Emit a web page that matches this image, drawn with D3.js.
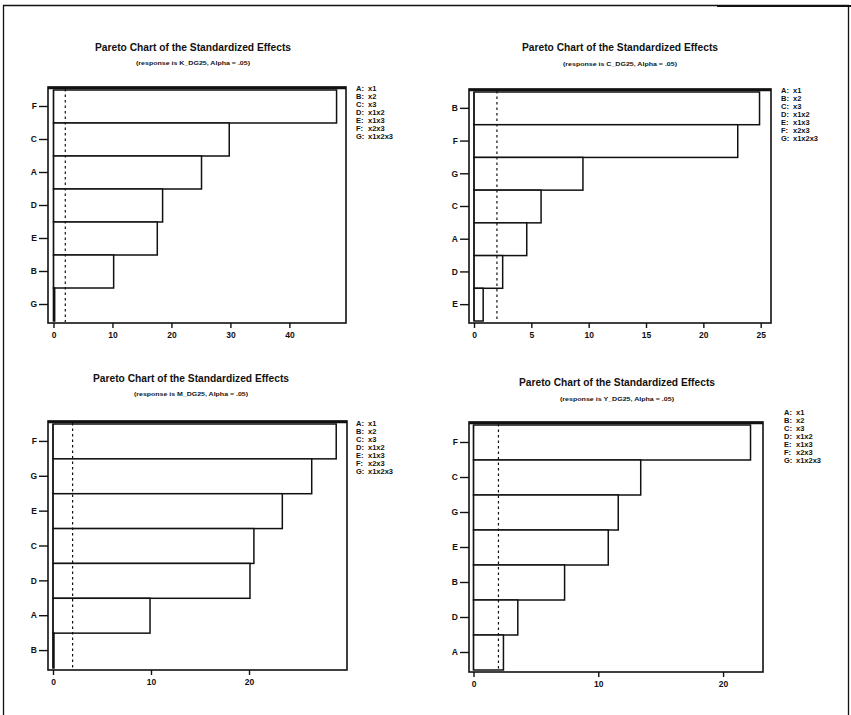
<!DOCTYPE html>
<html>
<head>
<meta charset="utf-8">
<script src="https://cdn.jsdelivr.net/npm/d3@7"></script>
<style>
	body { margin: 0; background: #fff; }
	svg text { font-family: "Liberation Sans", Arial, sans-serif; fill: #111; }
</style>
</head>
<body>
<svg id="chart" width="851" height="715"></svg>
<script>

// legend shared by all four charts
const legendKeys = ["A:", "B:", "C:", "D:", "E:", "F:", "G:"];
const legendTerms = ["x1", "x2", "x3", "x1x2", "x1x3", "x2x3", "x1x2x3"];
const alphaLine = 2.0; // dashed reference line

const responses = ["K_DG25", "C_DG25", "M_DG25", "Y_DG25"];

const kEffects = ["F", "C", "A", "D", "E", "B", "G"];
const kValues = [48.0, 29.8, 25.1, 18.5, 17.6, 10.2, 0.2];

const cEffects = ["B", "F", "G", "C", "A", "D", "E"];
const cValues = [24.9, 23.0, 9.5, 5.85, 4.6, 2.5, 0.8];

const mEffects = ["F", "G", "E", "C", "D", "A", "B"];
const mValues = [28.9, 26.4, 23.4, 20.5, 20.1, 9.9, 0.1];

const yEffects = ["F", "C", "G", "E", "B", "D", "A"];
const yValues = [22.2, 13.4, 11.6, 10.8, 7.3, 3.55, 2.4];

const kTicks = [0, 10, 20, 30, 40];
const cTicks = [0, 5, 10, 15, 20, 25];
const mTicks = [0, 10, 20];
const yTicks = [0, 10, 20];

//////////////////////////////////////////////////////////////////////

const svg = d3.select("#chart");

// page border of the scanned sheet
svg.append("path")
	.attr("d", "M3.5,715 L3.5,5.5 L848.5,5.5 L848.5,715")
	.attr("fill", "none")
	.attr("stroke", "#111")
	.attr("stroke-width", 1.3);
svg.append("line")
	.attr("x1", 717).attr("x2", 851).attr("y1", 6).attr("y2", 6)
	.attr("stroke", "#111").attr("stroke-width", 2.2);

const panels = [
	{effects: kEffects, values: kValues, ticks: kTicks, response: responses[0],
	 left: 48, right: 346, top: 87, bottom: 323, zero: 53.5, xMax: 49.6,
	 titleX: 193, titleY: 51, subY: 65, legendX: 356, legendY: 91},
	{effects: cEffects, values: cValues, ticks: cTicks, response: responses[1],
	 left: 469, right: 771, top: 89, bottom: 323, zero: 474, xMax: 25.9,
	 titleX: 620, titleY: 51, subY: 66, legendX: 781, legendY: 93},
	{effects: mEffects, values: mValues, ticks: mTicks, response: responses[2],
	 left: 48, right: 347, top: 421, bottom: 670, zero: 53, xMax: 30.0,
	 titleX: 191, titleY: 382, subY: 396, legendX: 356, legendY: 426},
	{effects: yEffects, values: yValues, ticks: yTicks, response: responses[3],
	 left: 469, right: 763, top: 422, bottom: 672, zero: 473.5, xMax: 23.2,
	 titleX: 617, titleY: 386, subY: 401, legendX: 784, legendY: 415}
];

for (const p of panels) {
	drawPareto(p);
}

function drawPareto(p) {

	const g = svg.append("g");

	// the zero sits a few pixels inside the frame, as in minitab
	const x = d3.scaleLinear()
		.domain([0, p.xMax])
		.range([p.zero, p.right]);

	const y = d3.scaleBand()
		.domain(p.effects)
		.range([p.top + 3, p.bottom - 2])
		.paddingInner(0);

	const rows = p.effects.map((e, i) => ({name: e, value: p.values[i]}));

	// bars
	g.selectAll("rect.bar")
		.data(rows)
		.join("rect")
		.classed("bar", true)
		.attr("x", x(0))
		.attr("y", d => y(d.name))
		.attr("width", d => x(d.value) - x(0))
		.attr("height", y.bandwidth())
		.attr("fill", "#fff")
		.attr("stroke", "#111")
		.attr("stroke-width", 1.5);

	// zero line
	g.append("line")
		.attr("x1", x(0)).attr("x2", x(0))
		.attr("y1", p.top + 3).attr("y2", p.bottom - 2)
		.attr("stroke", "#111").attr("stroke-width", 1.2);

	// dashed alpha line
	g.append("line")
		.attr("x1", x(alphaLine)).attr("x2", x(alphaLine))
		.attr("y1", p.top + 2).attr("y2", p.bottom - 1)
		.attr("stroke", "#111")
		.attr("stroke-width", 1.2)
		.attr("stroke-dasharray", "2.5,3");

	// frame
	g.append("rect")
		.attr("x", p.left).attr("y", p.top)
		.attr("width", p.right - p.left).attr("height", p.bottom - p.top)
		.attr("fill", "none")
		.attr("stroke", "#111")
		.attr("stroke-width", 1.6);
	g.append("line")
		.attr("x1", p.left).attr("x2", p.right)
		.attr("y1", p.top + 1).attr("y2", p.top + 1)
		.attr("stroke", "#111").attr("stroke-width", 2.6);

	// axes
	const xAxis = g.append("g")
		.attr("transform", "translate(0," + p.bottom + ")")
		.call(d3.axisBottom(x).tickValues(p.ticks).tickSize(5).tickSizeOuter(0).tickPadding(4));
	xAxis.select(".domain").remove();

	const yAxis = g.append("g")
		.attr("transform", "translate(" + p.left + ",0)")
		.call(d3.axisLeft(y).tickSize(9).tickSizeOuter(0).tickPadding(2));
	yAxis.select(".domain").remove();

	g.selectAll(".tick line").attr("stroke", "#111").attr("stroke-width", 1.4);
	g.selectAll(".tick text")
		.attr("font-size", 8.5)
		.attr("font-weight", "bold")
		.attr("fill", "#111");

	// titles
	g.append("text")
		.attr("x", p.titleX).attr("y", p.titleY)
		.attr("text-anchor", "middle")
		.attr("font-size", 10.5)
		.attr("font-weight", "bold")
		.attr("textLength", 196)
		.attr("lengthAdjust", "spacingAndGlyphs")
		.text("Pareto Chart of the Standardized Effects");

	g.append("text")
		.attr("x", p.titleX).attr("y", p.subY)
		.attr("text-anchor", "middle")
		.attr("font-size", 6)
		.attr("font-weight", "bold")
		.attr("textLength", 114)
		.attr("lengthAdjust", "spacingAndGlyphs")
		.text("(response is " + p.response + ", Alpha = .05)");

	// legend
	const legend = g.append("g")
		.attr("font-size", 7.5)
		.attr("font-weight", "bold");
	legend.selectAll("text.key")
		.data(legendKeys)
		.join("text")
		.classed("key", true)
		.attr("x", p.legendX)
		.attr("y", (d, i) => p.legendY + i * 8)
		.text(d => d);
	legend.selectAll("text.term")
		.data(legendTerms)
		.join("text")
		.classed("term", true)
		.attr("x", p.legendX + 12)
		.attr("y", (d, i) => p.legendY + i * 8)
		.text(d => d);
}

</script>
</body>
</html>
